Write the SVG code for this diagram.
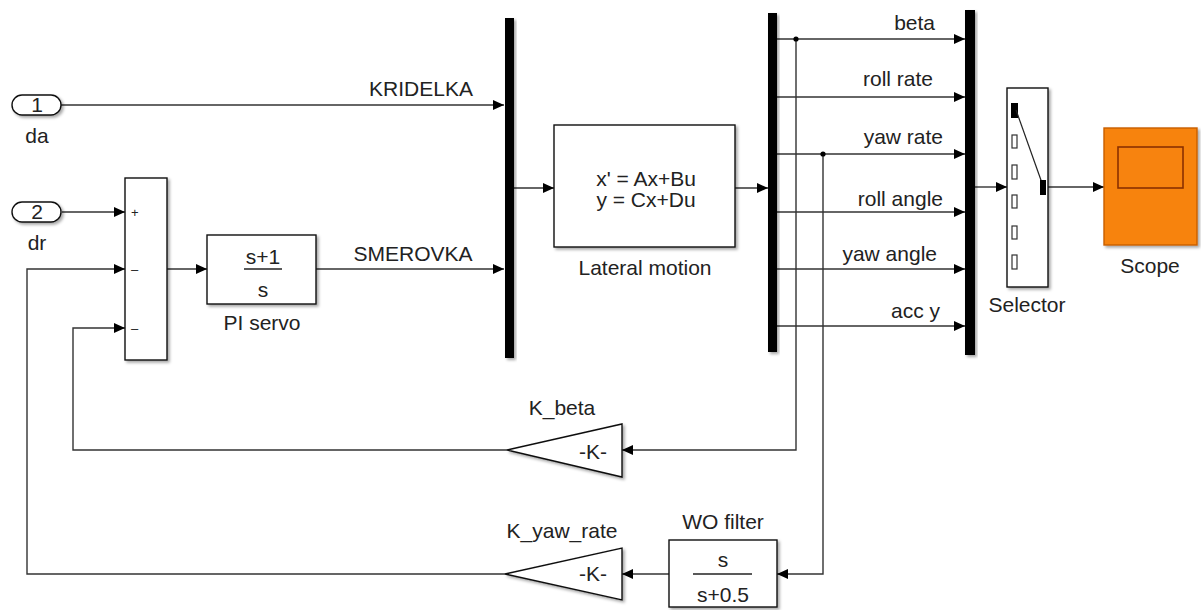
<svg xmlns="http://www.w3.org/2000/svg" width="1201" height="610" viewBox="0 0 1201 610">
<style>
.blk{fill:#fff;stroke:#111;stroke-width:1.4;filter:url(#sh)}
.bar{fill:#000;filter:url(#sh)}
.t{font-family:"Liberation Sans",Arial,sans-serif;font-size:21px;fill:#222}
.m{text-anchor:middle}
.e{text-anchor:end}
.ln{fill:none;stroke:#333;stroke-width:1.4}
.a{marker-end:url(#ar)}
.sg{font-family:"Liberation Sans",Arial,sans-serif;font-size:13px;fill:#222}
.sq{fill:none;stroke:#333;stroke-width:1.2}
</style>
<defs>
<filter id="sh" x="-20%" y="-20%" width="150%" height="150%">
<feDropShadow dx="2" dy="2" stdDeviation="1.5" flood-color="#000" flood-opacity="0.35"/>
</filter>
<marker id="ar" markerWidth="11" markerHeight="10" refX="11" refY="5" orient="auto" markerUnits="userSpaceOnUse">
<path d="M0,0 L11,5 L0,10 Z" fill="#000"/>
</marker>
</defs>

<g id="connectors">
<path class="ln a" d="M61 105 H504"/>
<path class="ln a" d="M62 212 H125"/>
<path class="ln a" d="M167 269 H207"/>
<path class="ln a" d="M316 269 H504"/>
<path class="ln a" d="M514 188 H554"/>
<path class="ln a" d="M735 188 H768"/>
<path class="ln a" d="M777 39 H965"/>
<path class="ln a" d="M777 97 H965"/>
<path class="ln a" d="M777 154 H965"/>
<path class="ln a" d="M777 212 H965"/>
<path class="ln a" d="M777 269 H965"/>
<path class="ln a" d="M777 326 H965"/>
<path class="ln a" d="M975 187 H1007"/>
<path class="ln a" d="M1048 187 H1104"/>
<path class="ln a" d="M796 39 V450 H622"/>
<path class="ln a" d="M507 450 H73 V328 H125"/>
<path class="ln a" d="M823 154 V574 H777"/>
<path class="ln a" d="M669 574 H622"/>
<path class="ln a" d="M505 574 H27 V269 H125"/>
<circle cx="796" cy="39" r="2.6" fill="#000"/>
<circle cx="823" cy="154" r="2.6" fill="#000"/>
<text class="t m" x="421" y="96">KRIDELKA</text>
<text class="t m" x="413" y="261">SMEROVKA</text>
<text class="t e" x="935" y="30">beta</text>
<text class="t e" x="933" y="86">roll rate</text>
<text class="t e" x="943" y="144">yaw rate</text>
<text class="t e" x="943" y="206">roll angle</text>
<text class="t e" x="937" y="261">yaw angle</text>
<text class="t e" x="940" y="318">acc y</text>
</g>

<g id="inport1">
<rect class="blk" x="12" y="95" width="49" height="20" rx="10"/>
<text class="t m" x="37" y="112">1</text>
<text class="t m" x="37" y="143">da</text>
</g>

<g id="inport2">
<rect class="blk" x="12" y="202" width="49" height="20" rx="10"/>
<text class="t m" x="37" y="219">2</text>
<text class="t m" x="37" y="250">dr</text>
</g>

<g id="sum">
<rect class="blk" x="125" y="178" width="42" height="182"/>
<text class="sg" x="131" y="217">+</text>
<text class="sg" x="131" y="274">–</text>
<text class="sg" x="131" y="333">–</text>
</g>

<g id="pi_servo">
<rect class="blk" x="207" y="235" width="109" height="69"/>
<text class="t m" x="263" y="264">s+1</text>
<line x1="244" y1="269" x2="282" y2="269" stroke="#222" stroke-width="1.4"/>
<text class="t m" x="263" y="297">s</text>
<text class="t m" x="262" y="330">PI servo</text>
</g>

<g id="mux">
<rect class="bar" x="505" y="18" width="9" height="340"/>
</g>

<g id="lateral_motion">
<rect class="blk" x="554" y="125" width="181" height="122"/>
<text class="t m" x="646" y="186">x' = Ax+Bu</text>
<text class="t m" x="646" y="207">y = Cx+Du</text>
<text class="t m" x="645" y="275">Lateral motion</text>
</g>

<g id="demux">
<rect class="bar" x="768" y="13" width="9" height="339"/>
</g>

<g id="mux2">
<rect class="bar" x="965" y="10" width="10" height="345"/>
</g>

<g id="selector">
<rect class="blk" x="1007" y="88" width="41" height="199"/>
<rect x="1011" y="103" width="7" height="15" fill="#000"/>
<rect class="sq" x="1012" y="135" width="5" height="13"/>
<rect class="sq" x="1012" y="165" width="5" height="14"/>
<rect class="sq" x="1012" y="195" width="5" height="13"/>
<rect class="sq" x="1012" y="226" width="5" height="13"/>
<rect class="sq" x="1012" y="255" width="5" height="14"/>
<line x1="1016" y1="110" x2="1042" y2="183" stroke="#222" stroke-width="1.2"/>
<rect x="1040" y="180" width="6" height="15" fill="#000"/>
<text class="t m" x="1027" y="312">Selector</text>
</g>

<g id="scope">
<rect x="1104" y="128" width="93" height="117" fill="#f7830f" stroke="#c85e00" stroke-width="1.4" filter="url(#sh)"/>
<rect x="1118" y="147" width="65" height="41" fill="#f7830f" stroke="#8a3000" stroke-width="1.6"/>
<text class="t m" x="1150" y="273">Scope</text>
</g>

<g id="k_beta">
<polygon class="blk" points="622,424 622,477 507,450"/>
<text class="t m" x="593" y="459">-K-</text>
<text class="t m" x="562" y="415">K_beta</text>
</g>

<g id="k_yaw_rate">
<polygon class="blk" points="622,548 622,600 505,574"/>
<text class="t m" x="593" y="581">-K-</text>
<text class="t m" x="562" y="538">K_yaw_rate</text>
</g>

<g id="wo_filter">
<rect class="blk" x="669" y="540" width="108" height="67"/>
<text class="t m" x="723" y="567">s</text>
<line x1="693" y1="574" x2="752" y2="574" stroke="#222" stroke-width="1.4"/>
<text class="t m" x="723" y="602">s+0.5</text>
<text class="t m" x="723" y="529">WO filter</text>
</g>
</svg>
